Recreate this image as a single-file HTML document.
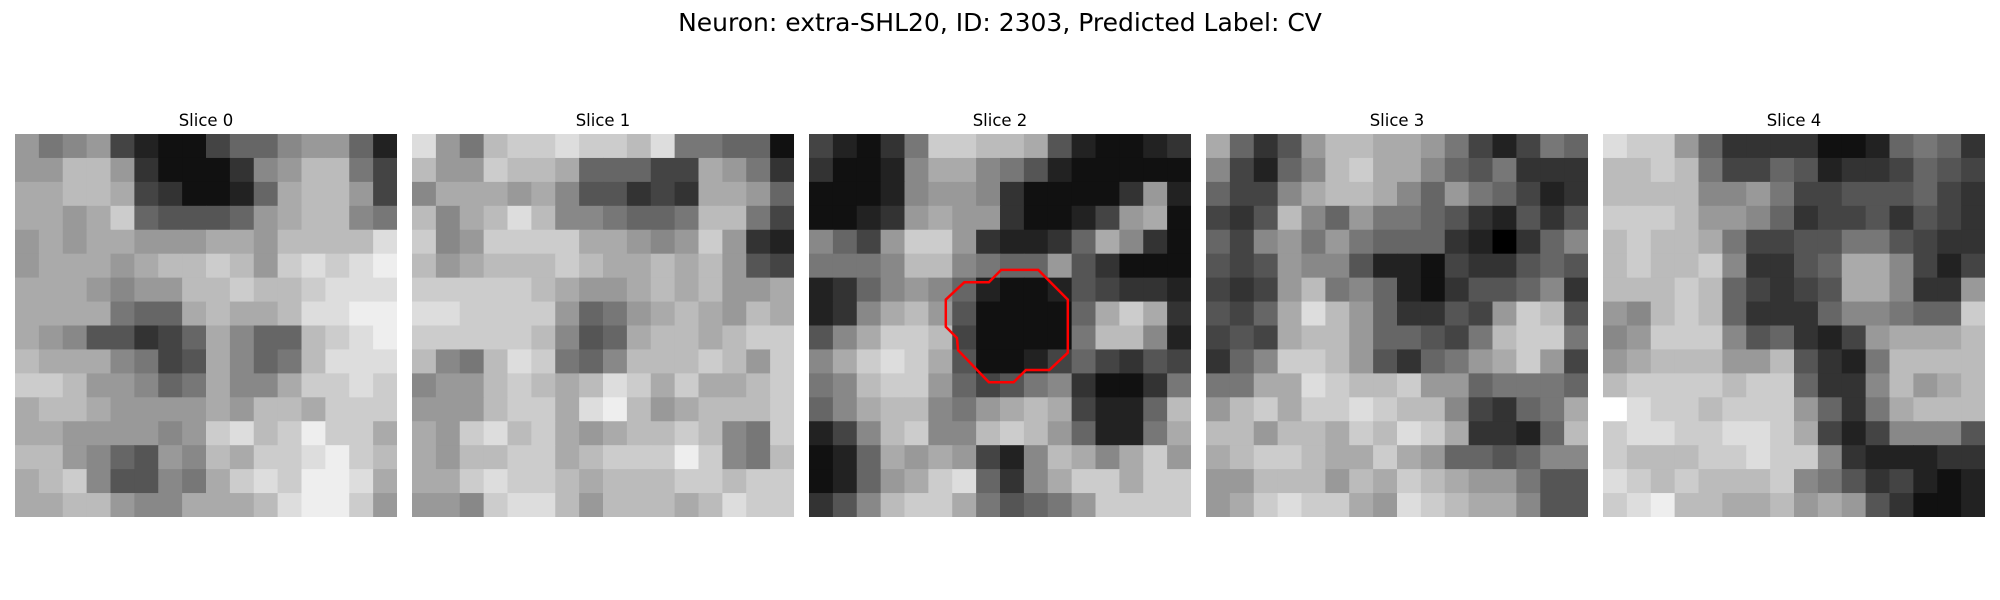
<!DOCTYPE html>
<html><head><meta charset="utf-8"><style>
html,body{margin:0;padding:0;background:#fff;}
svg{display:block;}
text{font-family:"DejaVu Sans","Liberation Sans",sans-serif;fill:#000;}
</style></head><body>
<svg id="fig" width="2000" height="600" viewBox="0 0 2000 600" xmlns="http://www.w3.org/2000/svg">
<text x="1000" y="31" text-anchor="middle" font-size="25">Neuron: extra-SHL20, ID: 2303, Predicted Label: CV</text>
</svg>
<script>
const sliceTitles = ["Slice 0","Slice 1","Slice 2","Slice 3","Slice 4"];
const slice0 = ["9789421146689962","99bb93111389bb74","aabba431126abb94","aa9ac655569abb87","9a9aa999aa9bbbbd","9aaa9abbcb9cdcde","aaa9899bbcbbcddd","aaaa766abaabddee","a9855346a866bcde","baaa8745a867bddd","ccb99867a88accdc","abba9999a9bbaccc","aa999989cdbcecca","bb986598baccdecb","abc85587acdceeda","aabb988aaabdeec9"];
const slice1 = ["d97bccdccbd77661","b99cbba66644a973","8aaa9a855343aa96","b8abdb887667bb74","c89ccccaa989c932","b9abbbcbaaba b954".replace(' ',''),"cccccba99abab99a","ddcccc9679aba9ba","cccccb856abbabcc","b87bdc768bbbcb9c","899bcbabdcacaabc","999bccadeb9abbbc","a9cdbca9abbcb87c","a9bbccabcccec87b","aacdccbabbbccbcc","998cddb9bbbabdcc"];
const slice2 = ["4213 7ccbba521123".replace(' ',''),"3112 8aa875211111".replace(' ',''),"1112899831111392","11239a9931124 9a1".replace(' ',''),"86 49cc93223 6a831".replace(/ /g,''),"7778bb8766953111","2368986211254332","238ab9511116aca3","58acc b41111 7bb82".replace(/ /g,''),"8acdca5112464354","78bcc9645783113 7".replace(' ',''),"68abb879aba4226b","248bc88bcb96227a","126a9a942 8ba8ac9".replace(' ',''),"1269acd638acca cc".replace(' ',''),"358bcca7567 9cccc".replace(' ','')];
const slice3 = ["a6359bbaa9742476","84268bcaa8657333","6448abba86976423","435b869776532535","6489797666320368","5459885221433565","4349b78621355683","546adb9633549cb5","454abb966547bcc7","368ccb953679ac94","77aadcbbc9967776","9bcaccdcbb84367a","bb9bbacbdca3326b","abccbaaca9665688","99bbb9bacba99755","9acdcca9dcbaa855"];
const slice4 = ["dcc9633331126763","bbcb744652334654","bbbb889744555643","cccb998634453543","bcbba74455775433","bcbbc83356aa8424","bbbcb64345aa8339","98bcb6333688766c","89ccc8563249aaab","9abbb99b5327bbbb","bccccbcc6338b9ab","fdccbccc9637abbb","cddccddca4248885","cbbbccdcc8322233","dcbcbbbc87534212","cdebbaab9a953112"];
const slices = [slice0, slice1, slice2, slice3, slice4];
// contour in pixel (data) coordinates of the 31x31 image for slice 2
const contourX = [11.1,12.6,14.6,15.6,18.6,21.0,21.0,19.5,17.6,16.6,14.6,12.1,12.0,11.1];
const contourY = [13.4,12.0,12.0,11.0,11.0,13.4,17.7,19.1,19.1,20.1,20.1,17.5,16.5,15.6];
const imgPixels = 31;

const NS = "http://www.w3.org/2000/svg";
const svg = document.getElementById('fig');
const panelX0 = 15, panelStep = 397, panelW = 382, panelY = 134, panelH = 383;
function xScale(i, d){ return panelX0 + i*panelStep + d*panelW/imgPixels; }
function yScale(d){ return panelY + d*panelH/imgPixels; }

slices.forEach((grid, i) => {
  const g = document.createElementNS(NS,'g');
  
  
  svg.appendChild(g);
  const t = document.createElementNS(NS,'text');
  t.setAttribute('x', panelX0 + i*panelStep + panelW/2);
  t.setAttribute('y', 126);
  t.setAttribute('text-anchor','middle');
  t.setAttribute('font-size','16.5');
  t.textContent = sliceTitles[i];
  
  
  g.appendChild(t);
  const rows = grid.length;
  grid.forEach((row, r) => {
    const cols = 16;
    for (let c = 0; c < cols; c++) {
      const v = parseInt(row[c] || '9',16);
      const gray = isNaN(v) ? 160 : Math.round(v*17);
      const x0 = panelX0 + i*panelStep + c*panelW/cols;
      const y0 = panelY + r*panelH/rows;
      const rect = document.createElementNS(NS,'rect');
      rect.setAttribute('x', x0.toFixed(2));
      rect.setAttribute('y', y0.toFixed(2));
      rect.setAttribute('width', (panelW/cols + (c < cols-1 ? 0.6 : 0)).toFixed(2));
      rect.setAttribute('height', (panelH/rows + (r < rows-1 ? 0.6 : 0)).toFixed(2));
      rect.setAttribute('fill', `rgb(${gray},${gray},${gray})`);
      
      
      g.appendChild(rect);
    }
  });
});

const pts = contourX.map((x, k) => xScale(2, x).toFixed(1) + ',' + yScale(contourY[k]).toFixed(1)).join(' ');
const poly = document.createElementNS(NS,'polygon');
poly.setAttribute('points', pts);
poly.setAttribute('fill','none');
poly.setAttribute('stroke','#ff0000');
poly.setAttribute('stroke-width','2.5');


svg.appendChild(poly);
</script>
</body></html>
